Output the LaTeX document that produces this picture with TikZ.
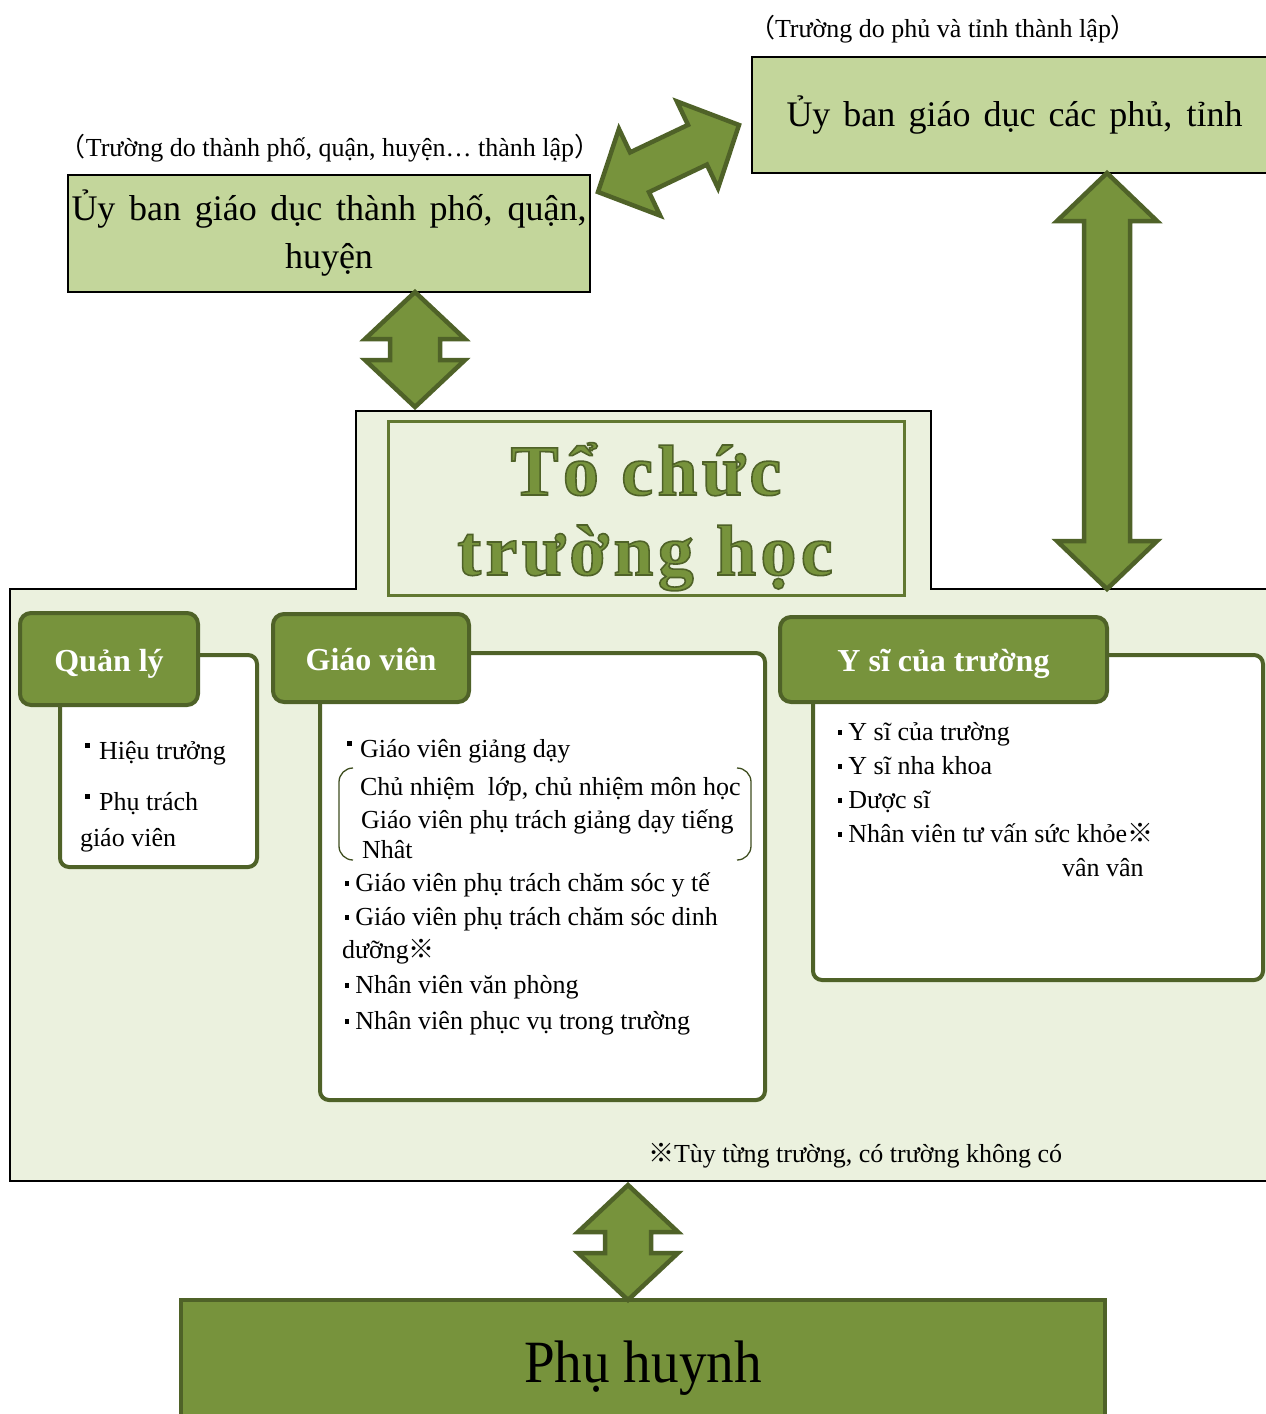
\documentclass[tikz,border=0pt]{standalone}
\usepackage{fontspec}
\usepackage{graphicx}
\setmainfont{Liberation Serif}
\newfontfamily\cjk{Noto Sans CJK JP}
\usetikzlibrary{calc}

\definecolor{boxgreen}{HTML}{C3D69B}
\definecolor{bggreen}{HTML}{EBF1DE}
\definecolor{olive}{HTML}{77933C}
\definecolor{darkolive}{HTML}{4F6228}

\newcommand\kome{{\cjk ※}}
\newcommand\fwopen{{\cjk （}}
\newcommand\fwclose{{\cjk ）}}
\newcommand\sqtop{\rule[0.42em]{0.2em}{0.2em}}
\newcommand\sqmid{\rule[0.2em]{0.17em}{0.17em}}
% outlined lettering: fill with the current colour, stroke in dark olive
\newcommand\outlined[1]{\special{pdf:code q 2 Tr 1.6 w 0.31 0.384 0.157 RG}#1\special{pdf:code Q}}

% double-headed block arrow: #1 tip, #2 tip, #3 head length, #4 head half width, #5 shaft half width
\newcommand\dblarrow[5]{%
  \draw[arrowshape] (#1)
    -- ($(#1)!#3!(#2)!#4!90:(#2)$)
    -- ($(#1)!#3!(#2)!#5!90:(#2)$)
    -- ($(#2)!#3!(#1)!#5!-90:(#1)$)
    -- ($(#2)!#3!(#1)!#4!-90:(#1)$)
    -- (#2)
    -- ($(#2)!#3!(#1)!#4!90:(#1)$)
    -- ($(#2)!#3!(#1)!#5!90:(#1)$)
    -- ($(#1)!#3!(#2)!#5!-90:(#2)$)
    -- ($(#1)!#3!(#2)!#4!-90:(#2)$)
    -- cycle;}

\begin{document}
\begin{tikzpicture}[x=1pt,y=-1pt,
  every node/.style={inner sep=0pt, outer sep=0pt},
  govbox/.style={draw=black, line width=1.2pt, fill=boxgreen, anchor=north west,
                 align=center, font=\fontsize{36}{48}\selectfont},
  arrowshape/.style={fill=olive, draw=darkolive, line width=4.5pt, line join=miter},
  tab/.style={draw=darkolive, fill=olive, line width=4pt, rounded corners=11pt,
              anchor=north west, text=white, text height=28pt, text depth=4pt,
              font=\bfseries\fontsize{32}{38}\selectfont},
  panel/.style={draw=darkolive, fill=white, line width=4pt, rounded corners=9pt, anchor=north west},
  body/.style={anchor=base west, font=\fontsize{26}{31}\selectfont},
  caption/.style={anchor=base, font=\fontsize{26}{31}\selectfont},
  titletext/.style={anchor=base, text=olive,
                    font=\bfseries\fontsize{72}{80}\selectfont\addfontfeatures{LetterSpace=6}},
  bracket/.style={draw=darkolive!80!black, line width=1.3pt},
]
\useasboundingbox (0,0) rectangle (1266,1414);
\fill[white] (0,0) rectangle (1266,1414);

% ---- education boards ----
\node[caption] (prefcap) at (943,37) {\fwopen Trường do phủ và tỉnh thành lập\fwclose};
\node[govbox, minimum width=520, minimum height=116] (prefboard) at (752,57)
  {\hspace*{5pt}\makebox[456pt][s]{Ủy ban giáo dục các phủ, tỉnh}};
\node[caption] (citycap) at (330,156) {\fwopen Trường do thành phố, quận, huyện… thành lập\fwclose};
\node[govbox, minimum width=522, minimum height=117] (cityboard) at (68,175)
  {\makebox[515pt][s]{Ủy ban giáo dục thành phố, quận,}\\huyện};

% ---- school area ----
\coordinate (sw) at (10,1181);
\coordinate (ne) at (1270,589);
\draw[black, line width=1.3pt, fill=bggreen]
  (sw) -- (10,589) -- (356,589) -- (356,411) -- (931,411) -- (931,589)
  -- (ne) -- (1270,1181) -- cycle;

\node[draw=olive!45!darkolive, line width=3pt, minimum width=516, minimum height=174,
      anchor=north west] (titlebox) at (388,421) {};
\node[titletext] (title1) at (646,495) {\outlined{Tổ chức}};
\node[titletext] (title2) at (645,575) {\outlined{trường học}};

% ---- management ----
\node[panel, minimum width=197, minimum height=212] (mgmtpanel) at (60,655) {};
\node[tab, minimum width=178, minimum height=92] (mgmttab) at (20,613) {Quản lý};
\node[body] (mg1) at (85,759) {\sqtop\hspace{9pt}Hiệu trưởng};
\node[body] (mg2) at (85,810) {\sqtop\hspace{9pt}Phụ trách};
\node[body] (mg3) at (80,846) {giáo viên};

% ---- teachers ----
\node[panel, minimum width=445, minimum height=447] (teachpanel) at (320,653) {};
\node[tab, minimum width=196, minimum height=88] (teachtab) at (273,614) {Giáo viên};
\node[body] (tc1) at (347,757) {\sqtop\hspace{8pt}Giáo viên giảng dạy};
\draw[bracket] (353,768) to[out=180,in=90] (339,782) -- (339,846) to[out=-90,in=180] (353,860);
\draw[bracket] (737,768) to[out=0,in=90] (751,782) -- (751,846) to[out=-90,in=0] (737,860);
\node[body] (tc2) at (360,795) {Chủ nhiệm\ \ lớp, chủ nhiệm môn học};
\node[body] (tc3) at (361,828) {Giáo viên phụ trách giảng dạy tiếng};
\node[body] (tc4) at (362,858) {Nhât};
\node[body] (tc5) at (345,891) {\sqmid\hspace{6pt}Giáo viên phụ trách chăm sóc y tế};
\node[body] (tc6) at (345,925) {\sqmid\hspace{6pt}Giáo viên phụ trách chăm sóc dinh};
\node[body] (tc7) at (342,958) {dưỡng\kome};
\node[body] (tc8) at (345,993) {\sqmid\hspace{6pt}Nhân viên văn phòng};
\node[body] (tc9) at (345,1029) {\sqmid\hspace{6pt}Nhân viên phục vụ trong trường};

% ---- school medical staff ----
\node[panel, minimum width=450, minimum height=325] (medpanel) at (813,655) {};
\node[tab, minimum width=327, minimum height=85] (medtab) at (780,617) {Y sĩ của trường};
\node[body] (md1) at (838,740) {\sqmid\hspace{6pt}Y sĩ của trường};
\node[body] (md2) at (838,774) {\sqmid\hspace{6pt}Y sĩ nha khoa};
\node[body] (md3) at (838,808) {\sqmid\hspace{6pt}Dược sĩ};
\node[body] (md4) at (838,842) {\sqmid\hspace{6pt}Nhân viên tư vấn sức khỏe\kome};
\node[body] (md5) at (1062,876) {vân vân};

\node[body] (footnote) at (648,1162) {\kome Tùy từng trường, có trường không có};

% ---- parents ----
\node[draw=darkolive, fill=olive, line width=4pt, minimum width=924, minimum height=140,
      anchor=north west] (parents) at (181,1300) {};
\node[anchor=base, font=\fontsize{60}{70}\selectfont] (parentslabel) at (643,1382)
  {\scalebox{0.92}[1]{Phụ huynh}};

% ---- two-way links ----
\coordinate (cityA) at (cityboard.south -| 415,0);
\coordinate (cityB) at (415,407);
\coordinate (prefA) at (prefboard.south -| 1107,0);
\coordinate (prefB) at (ne -| 1107,0);
\coordinate (boardsA) at (598,192);
\coordinate (boardsB) at (739,125);
\coordinate (parentsA) at (628,1185);
\coordinate (parentsB) at (parents.north -| 628,0);

\dblarrow{cityA}{cityB}{47pt}{50pt}{25pt}
\dblarrow{prefA}{prefB}{48pt}{50pt}{23pt}
\dblarrow{boardsA}{boardsB}{46pt}{48pt}{22pt}
\dblarrow{parentsA}{parentsB}{47pt}{50pt}{23pt}
\end{tikzpicture}
\end{document}
